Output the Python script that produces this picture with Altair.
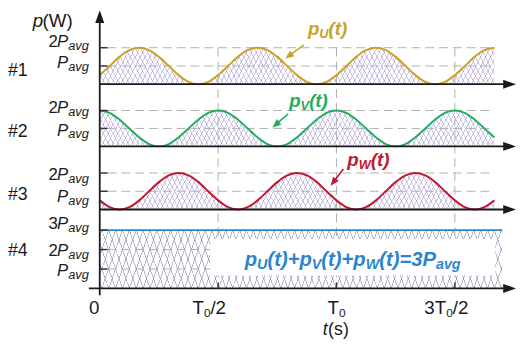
import math
import altair as alt
import pandas as pd

# ---------------- data (units: Pavg, time in T0) ----------------
t_T0 = [0.000, 0.042, 0.083, 0.125, 0.167, 0.208, 0.250, 0.292, 0.333, 0.375, 0.417, 0.458,
        0.500, 0.542, 0.583, 0.625, 0.667, 0.708, 0.750, 0.792, 0.833, 0.875, 0.917, 0.958,
        1.000, 1.042, 1.083, 1.125, 1.167, 1.208, 1.250, 1.292, 1.333, 1.375, 1.417, 1.458,
        1.500, 1.542, 1.583, 1.625, 1.667]
pU = [0.50, 1.00, 1.50, 1.87, 2.00, 1.87, 1.50, 1.00, 0.50, 0.13, 0.00, 0.13,
      0.50, 1.00, 1.50, 1.87, 2.00, 1.87, 1.50, 1.00, 0.50, 0.13, 0.00, 0.13,
      0.50, 1.00, 1.50, 1.87, 2.00, 1.87, 1.50, 1.00, 0.50, 0.13, 0.00, 0.13,
      0.50, 1.00, 1.50, 1.87, 2.00]
pV = [2.00, 1.87, 1.50, 1.00, 0.50, 0.13, 0.00, 0.13, 0.50, 1.00, 1.50, 1.87,
      2.00, 1.87, 1.50, 1.00, 0.50, 0.13, 0.00, 0.13, 0.50, 1.00, 1.50, 1.87,
      2.00, 1.87, 1.50, 1.00, 0.50, 0.13, 0.00, 0.13, 0.50, 1.00, 1.50, 1.87,
      2.00, 1.87, 1.50, 1.00, 0.50]
pW = [0.50, 0.13, 0.00, 0.13, 0.50, 1.00, 1.50, 1.87, 2.00, 1.87, 1.50, 1.00,
      0.50, 0.13, 0.00, 0.13, 0.50, 1.00, 1.50, 1.87, 2.00, 1.87, 1.50, 1.00,
      0.50, 0.13, 0.00, 0.13, 0.50, 1.00, 1.50, 1.87, 2.00, 1.87, 1.50, 1.00,
      0.50, 0.13, 0.00, 0.13, 0.50]
p_sum = 3.0
sum_t_end = 1.70
grid_t = [0.5, 1.0, 1.5]
series_names = ["pU", "pV", "pW"]
series_colors = ["#c9a227", "#22ad5c", "#c3182f"]
BLUE = "#2b84d0"
INK = "#1a1a1a"
FONT = "Liberation Sans, Arial, sans-serif"

# ---------------- layout ----------------
W, H = 423, 332
PAD_L = 93
X0_PAGE, Y_BOTTOM_PAGE = 101, 340
PX_PER_T0 = 240.0


def tx(px):
    return (px - X0_PAGE) / PX_PER_T0


def ty(py):
    return Y_BOTTOM_PAGE - py


panel_base_py = [83, 146, 210, 290]
panel_unit = [18.5, 18.2, 18.5, 19.7]


def vy(p, v):
    return ty(panel_base_py[p]) + panel_unit[p] * v


XS = alt.Scale(domain=[0, W / PX_PER_T0], nice=False, zero=False)
YS = alt.Scale(domain=[0, H], nice=False, zero=False)


def X(f):
    return alt.X(f + ":Q", scale=XS, axis=None)


def Y(f):
    return alt.Y(f + ":Q", scale=YS, axis=None)


def hatch(w, h, period, slope, color, lw, sign):
    dx = 1.2
    dy = sign * dx * h / (slope * w)
    den = dx * dx + dy * dy
    ds = period * dx / (w * den)
    dl = lw * dx / (w * den)
    clear = "rgba(255,255,255,0)"
    stops = []
    s = 0.001
    while s + dl < 0.999:
        a, b = round(s, 6), round(s + dl, 6)
        stops += [alt.GradientStop(color=clear, offset=a), alt.GradientStop(color=color, offset=a),
                  alt.GradientStop(color=color, offset=b), alt.GradientStop(color=clear, offset=b)]
        s += ds
    return alt.LinearGradient(gradient="linear", stops=stops, x1=-0.1, y1=0, x2=1.1, y2=dy)


# ---------------- tables ----------------
rows = []
for i, (name, vals) in enumerate(zip(series_names, [pU, pV, pW])):
    for t, v in zip(t_T0, vals):
        rows.append(dict(series=name, t=t, y=vy(i, v), y0=vy(i, 0), color=series_colors[i]))
curves = pd.DataFrame(rows)

sum_area = pd.DataFrame(dict(t=[0.0, sum_t_end], y=[vy(3, p_sum)] * 2, y0=[vy(3, 0)] * 2))

hgrid = pd.DataFrame([dict(x=tx(109), x2=t_T0[-1], y=vy(p, lv)) for p in range(4) for lv in (1, 2)])
vgrid = pd.DataFrame([dict(x=t, y=vy(0, 2), y2=vy(3, 0)) for t in grid_t])
box = pd.DataFrame([dict(x=tx(213), x2=tx(502), y=ty(240), y2=ty(277))])
sum_line = pd.DataFrame([dict(x=0.0, x2=sum_t_end, y=vy(3, p_sum))])

axes_h = pd.DataFrame([dict(x=0.0 if p < 3 else tx(90), x2=tx(512), y=vy(p, 0)) for p in range(4)])
axes_v = pd.DataFrame([dict(x=0.0, y=ty(297), y2=ty(19))])
yticks = pd.DataFrame([dict(x=0.0, x2=tx(109), y=vy(p, lv)) for p in range(4)
                       for lv in ((1, 2) if p < 3 else (1, 2, 3))])
xticks = pd.DataFrame([dict(x=t, y=vy(3, 0), y2=vy(3, 0) + 6) for t in grid_t])
heads_r = pd.DataFrame([dict(x=tx(516.5), y=vy(p, 0)) for p in range(4)])
heads_u = pd.DataFrame([dict(x=0.0, y=ty(14.5))])

# annotation arrows (page coords start -> tip)
arrows = [((308, 43), (289, 57), series_colors[0]),
          ((292, 113), (276, 127), series_colors[1]),
          ((348, 169), (335, 186), series_colors[2])]
arr_rows, head_rows = [], []
for (sx, sy), (ex, ey), col in arrows:
    dxp, dyp = ex - sx, ey - sy
    L = math.hypot(dxp, dyp)
    ux, uy = dxp / L, dyp / L
    cx, cy = ex - ux * 4.5, ey - uy * 4.5
    ang = math.degrees(math.atan2(dxp, -dyp)) % 360
    arr_rows.append(dict(x=tx(sx), y=ty(sy), x2=tx(cx), y2=ty(cy), color=col))
    head_rows.append(dict(x=tx(cx), y=ty(cy), angle=ang, color=col))
arr_df = pd.DataFrame(arr_rows)
arr_head_df = pd.DataFrame(head_rows)

# ---------------- texts ----------------
TXT = []


def txt(s, px, py, size, color=INK, italic=False, bold=False, align="left"):
    TXT.append(dict(text=s, t=tx(px), y=ty(py), size=size, color=color,
                    style="italic" if italic else "normal",
                    weight="bold" if bold else "normal", align=align))


txt("p", 33, 25, 19, italic=True)
txt("(W)", 43, 25, 19)

ylabels = [("2", 45, 48.5), ("", 67, 70), ("2", 112, 115), ("", 135, 138),
           ("2", 180, 183), ("", 202, 205), ("3", 230, 233), ("2", 257, 260), ("", 277, 280)]
for d, pyP, pyA in ylabels:
    if d:
        txt(d, 58.5, pyP, 17, align="right")
    txt("P", 69, pyP, 17, italic=True, align="right")
    txt("avg", 90, pyA, 13, italic=True, align="right")

for lab, py in [("#1", 75), ("#2", 136), ("#3", 200), ("#4", 257)]:
    txt(lab, 8, py, 18)

txt("0", 90, 316, 19)
txt("T", 195, 316, 19); txt("0", 206.6, 318.5, 12); txt("/2", 213.2, 316, 19)
txt("T", 332, 316, 19); txt("0", 343.6, 318.5, 12)
txt("3T", 430, 316, 19); txt("0", 452.2, 318.5, 12); txt("/2", 458.8, 316, 19)
txt("t", 327, 337, 18, italic=True)
txt("(s)", 332.5, 337, 18)

for (px, py, sub, col) in [(312, 33, "U", series_colors[0]), (293, 106, "V", series_colors[1]),
                           (352, 166, "W", series_colors[2])]:
    subw = {"U": 0.722, "V": 0.667, "W": 0.944}[sub] * 13
    txt("p", px, py, 19, col, True, True)
    txt(sub, px + 11.6, py + 3, 13, col, True, True)
    txt("(t)", px + 11.6 + subw, py, 19, col, True, True)

# blue equation, chained with Arial bold metrics
WID = {"p": .611, "(": .333, "t": .333, ")": .333, "+": .584, "=": .584, "3": .556, "P": .667,
       "a": .556, "v": .556, "g": .611, "U": .722, "V": .667, "W": .944, " ": .278}
pieces = [("p", 0), ("U", 1), ("(t)+", 0), ("p", 0), ("V", 1), ("(t)+", 0), ("p", 0), ("W", 1),
          ("(t)=3P", 0), ("avg", 1)]
cx = 248.0
for s, sub in pieces:
    fs = 14.5 if sub else 20.5
    txt(s, cx, 267 + (3 if sub else 0), fs, BLUE, True, True)
    cx += sum(WID[c] for c in s) * fs

texts = pd.DataFrame(TXT)

# ---------------- layers ----------------
layers = []
HC = "rgba(130,112,195,0.4)"
HC4 = "rgba(115,115,150,0.5)"
for sgn in (1, -1):
    layers.append(alt.Chart(curves).mark_area(fill=hatch(400, 37, 5, 1.9, HC, 1.0, sgn),
                                              interpolate="monotone")
                  .encode(x=X("t"), y=Y("y"), y2="y0", detail="series:N"))
for sgn in (1, -1):
    layers.append(alt.Chart(sum_area).mark_area(fill=hatch(409, 59, 7, 2.8, HC4, 1.0, sgn))
                  .encode(x=X("t"), y=Y("y"), y2="y0"))

layers.append(alt.Chart(hgrid).mark_rule(color="#b0b0b0", strokeWidth=1, strokeDash=[9, 5])
              .encode(x=X("x"), x2="x2", y=Y("y")))
layers.append(alt.Chart(vgrid).mark_rule(color="#b0b0b0", strokeWidth=1, strokeDash=[9, 5])
              .encode(x=X("x"), y=Y("y"), y2="y2"))
layers.append(alt.Chart(box).mark_rect(fill="white")
              .encode(x=X("x"), x2="x2", y=Y("y"), y2="y2"))
layers.append(alt.Chart(sum_line).mark_rule(color=BLUE, strokeWidth=2)
              .encode(x=X("x"), x2="x2", y=Y("y")))
layers.append(alt.Chart(curves).mark_line(interpolate="monotone", strokeWidth=2)
              .encode(x=X("t"), y=Y("y"), detail="series:N", color=alt.Color("color:N", scale=None)))

layers.append(alt.Chart(axes_h).mark_rule(color=INK, strokeWidth=1.8)
              .encode(x=X("x"), x2="x2", y=Y("y")))
layers.append(alt.Chart(axes_v).mark_rule(color=INK, strokeWidth=1.8)
              .encode(x=X("x"), y=Y("y"), y2="y2"))
layers.append(alt.Chart(yticks).mark_rule(color="#333333", strokeWidth=1.5)
              .encode(x=X("x"), x2="x2", y=Y("y")))
layers.append(alt.Chart(xticks).mark_rule(color="#333333", strokeWidth=1.5)
              .encode(x=X("x"), y=Y("y"), y2="y2"))
layers.append(alt.Chart(heads_r).mark_point(shape="M1,0L-1,-0.7L-1,0.7Z", size=169, filled=True,
                                            color=INK, opacity=1)
              .encode(x=X("x"), y=Y("y")))
layers.append(alt.Chart(heads_u).mark_point(shape="M0,-1L-0.7,1L0.7,1Z", size=169, filled=True,
                                            color=INK, opacity=1)
              .encode(x=X("x"), y=Y("y")))

layers.append(alt.Chart(arr_df).mark_rule(strokeWidth=1.6)
              .encode(x=X("x"), y=Y("y"), x2="x2", y2="y2", color=alt.Color("color:N", scale=None)))
layers.append(alt.Chart(arr_head_df).mark_point(shape="M0,-1L-0.8,1L0.8,1Z", size=81, filled=True,
                                                opacity=1)
              .encode(x=X("x"), y=Y("y"), angle=alt.Angle("angle:Q", scale=None),
                      color=alt.Color("color:N", scale=None)))

for (style, weight, align), g in texts.groupby(["style", "weight", "align"]):
    layers.append(alt.Chart(g).mark_text(font=FONT, fontStyle=style, fontWeight=weight, align=align,
                                         baseline="alphabetic")
                  .encode(x=X("t"), y=Y("y"), text="text:N",
                          size=alt.Size("size:Q", scale=None),
                          color=alt.Color("color:N", scale=None)))

chart = (alt.layer(*layers)
         .properties(width=W, height=H,
                     padding={"left": PAD_L, "top": 0, "right": 0, "bottom": 0},
                     autosize=alt.AutoSizeParams(type="none"),
                     background="white")
         .configure_view(stroke=None))

chart.save("out.html", embed_options={"renderer": "svg", "actions": False})
